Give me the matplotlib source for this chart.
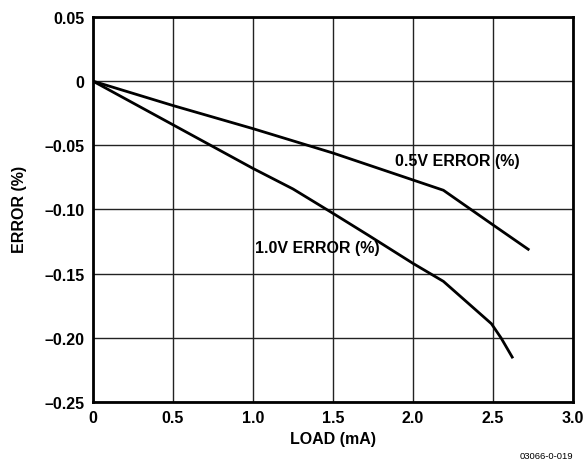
import matplotlib
matplotlib.use("Agg")
import matplotlib.pyplot as plt

plt.rcParams["font.family"] = ["Liberation Sans", "DejaVu Sans"]
plt.rcParams["font.weight"] = "bold"

# 0.5V error curve
load_05 = [0.0, 0.5, 1.0, 1.5, 2.0, 2.19, 2.5, 2.72]
err_05 = [0.0, -0.019, -0.037, -0.056, -0.077, -0.085, -0.112, -0.131]

# 1.0V error curve
load_10 = [0.0, 0.5, 1.0, 1.25, 1.5, 1.72, 2.0, 2.19, 2.49, 2.55, 2.62]
err_10 = [0.0, -0.034, -0.068, -0.084, -0.103, -0.120, -0.142, -0.156, -0.189, -0.200, -0.215]

x_ticks = [0, 0.5, 1.0, 1.5, 2.0, 2.5, 3.0]
x_labels = ["0", "0.5", "1.0", "1.5", "2.0", "2.5", "3.0"]
y_ticks = [0.05, 0, -0.05, -0.10, -0.15, -0.20, -0.25]
y_labels = ["0.05", "0", "\u20130.05", "\u20130.10", "\u20130.15", "\u20130.20", "\u20130.25"]

fs = 11.5

fig = plt.figure(figsize=(5.87, 4.64), dpi=100)
ax = fig.add_axes([93 / 587, 1 - 403 / 464, 480 / 587, 385 / 464])

ax.plot(load_05, err_05, color="black", lw=2.0, solid_joinstyle="round")
ax.plot(load_10, err_10, color="black", lw=2.0, solid_joinstyle="round")

ax.set_xlim(0, 3.0)
ax.set_ylim(-0.25, 0.05)
ax.set_xticks(x_ticks)
ax.set_xticklabels(x_labels)
ax.set_yticks(y_ticks)
ax.set_yticklabels(y_labels)
ax.tick_params(length=0, labelsize=fs, pad=6)
ax.grid(True, color="#222222", lw=1.0)
for s in ax.spines.values():
    s.set_linewidth(2.0)

ax.set_xlabel("LOAD (mA)", fontsize=fs, fontweight="bold", labelpad=4)
fig.text(20 / 587, 1 - 209 / 464, "ERROR (%)", fontsize=fs, fontweight="bold",
         rotation=90, ha="center", va="center")

ax.text(1.89, -0.0615, "0.5V ERROR (%)", fontsize=fs, fontweight="bold",
        ha="left", va="center")
ax.text(1.01, -0.130, "1.0V ERROR (%)", fontsize=fs, fontweight="bold",
        ha="left", va="center")

fig.text(573 / 587, 1 - 457 / 464, "03066-0-019", fontsize=6.8, fontweight="normal",
         ha="right", va="center")

fig.savefig("out.png", dpi=100)
